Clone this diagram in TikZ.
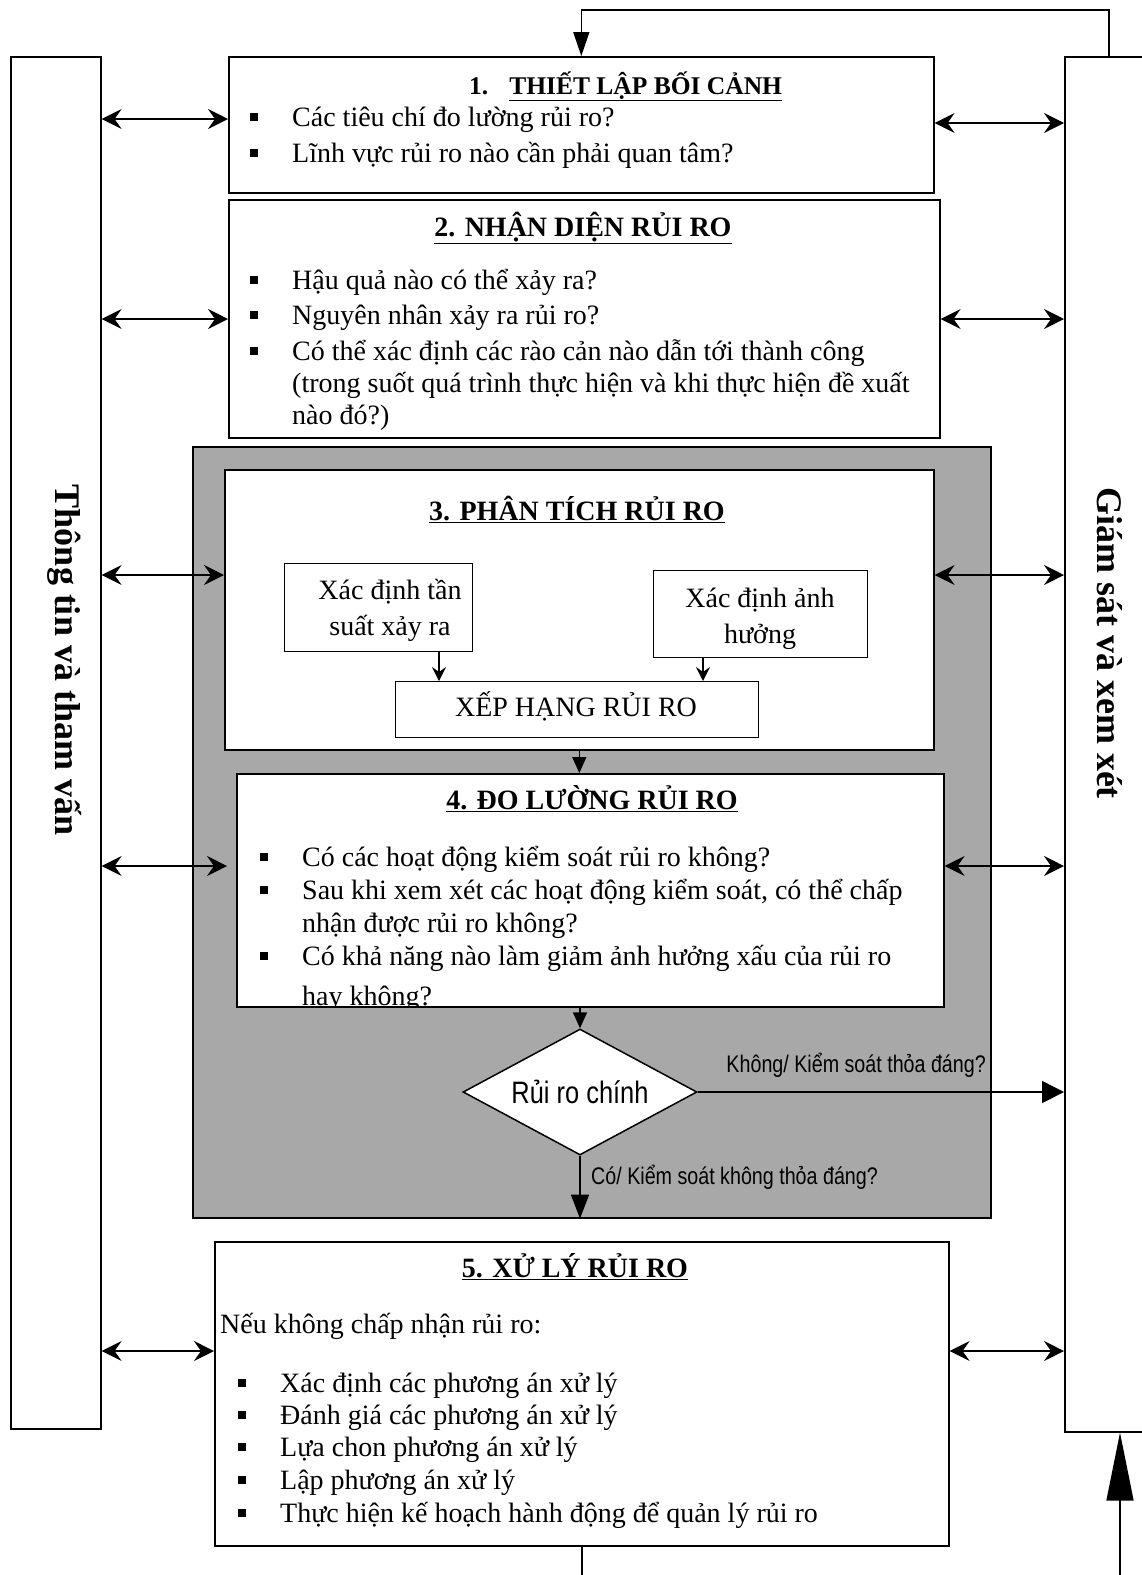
\documentclass[tikz,border=0pt]{standalone}
\usepackage{fontspec}
\setmainfont{Liberation Serif}
\newfontfamily\narrowsans[FakeStretch=0.82]{Liberation Sans}
\usetikzlibrary{arrows.meta,shapes.geometric}
\definecolor{panelgray}{RGB}{168,168,168}
\newcommand\bitem[4]{\node[bul] (#1b) at (#2-38,#3-9) {}; \node[txt] (#1) at (#2,#3) {#4};}
\tikzset{
  box/.style={draw, line width=1.6pt, fill=white, anchor=north west, inner sep=0pt},
  txt/.style={anchor=base west, inner sep=0pt, font=\fontsize{28}{33}\selectfont},
  ctxt/.style={anchor=base, inner sep=0pt, font=\fontsize{28}{33}\selectfont},
  ttl/.style={anchor=base, inner sep=0pt, font=\fontsize{28}{33}\selectfont\bfseries},
  side/.style={inner sep=0pt, rotate=-90, font=\fontsize{36}{40}\selectfont\bfseries},
  bul/.style={fill=black, minimum size=8pt, inner sep=0pt, anchor=center},
  elab/.style={inner sep=0pt, font=\narrowsans\fontsize{24}{28}\selectfont},
  conn/.style={line width=1.5pt},
  dbl/.style={line width=1.5pt, {Stealth[length=20pt,width=20pt,inset=7pt]}-{Stealth[length=20pt,width=20pt,inset=7pt]}},
  vee/.style={line width=1.5pt, -{Stealth[length=14pt,width=14pt,inset=5pt]}},
  tri/.style={line width=1.5pt, -{Triangle[length=16pt,width=14pt]}},
}
\begin{document}
\begin{tikzpicture}[x=1pt,y=-1pt]
\useasboundingbox (0,0) rectangle (1142,1575);
\clip (0,0) rectangle (1142,1575);
\fill[white] (0,0) rectangle (1142,1575);

% side boxes
\node[box, minimum width=90pt, minimum height=1372pt] (leftbox) at (10,56) {};
\node[box, minimum width=100pt, minimum height=1375pt] (rightbox) at (1064,56) {};
\node[side] (lefttxt) at (65,660) {Thông tin và tham vấn};
\node[side] (righttxt) at (1110,643) {Giám sát và xem xét};

% box 1
\node[box, minimum width=705pt, minimum height=136pt] (box1) at (228,56) {};
\node[ttl, anchor=base west, font=\fontsize{25.5}{30}\selectfont\bfseries] (t1) at (469,94) {1.\hspace{21pt}\underline{THIẾT LẬP BỐI CẢNH}};
\bitem{a1}{292}{126}{Các tiêu chí đo lường rủi ro?}
\bitem{a2}{292}{162}{Lĩnh vực rủi ro nào cần phải quan tâm?}

% box 2
\node[box, minimum width=711pt, minimum height=238pt] (box2) at (228,199) {};
\node[ttl] (t2) at (583,236) {\underline{2. NHẬN DIỆN RỦI RO}};
\bitem{c1}{292}{289}{Hậu quả nào có thể xảy ra?}
\bitem{c2}{292}{324}{Nguyên nhân xảy ra rủi ro?}
\bitem{c3}{292}{360}{Có thể xác định các rào cản nào dẫn tới thành công}
\node[txt] (c3b2) at (292,392) {(trong suốt quá trình thực hiện và khi thực hiện đề xuất};
\node[txt] (c3b3) at (292,424) {nào đó?)};

% gray panel
\node[box, fill=panelgray, minimum width=798pt, minimum height=771pt] (gray) at (192,446) {};

% box 3
\node[box, minimum width=709pt, minimum height=280pt] (box3) at (224,469) {};
\node[ttl] (t3) at (577,520) {\underline{3. PHÂN TÍCH RỦI RO}};
\node[box, line width=1.4pt, minimum width=188pt, minimum height=88pt] (sub1) at (284,563) {};
\node[ctxt] (s1a) at (390,599) {Xác định tần};
\node[ctxt] (s1b) at (390,635) {suất xảy ra};
\node[box, line width=1.4pt, minimum width=214pt, minimum height=87pt] (sub2) at (653,570) {};
\node[ctxt] (s2a) at (760,607) {Xác định ảnh};
\node[ctxt] (s2b) at (760,643) {hưởng};
\node[box, line width=1.4pt, minimum width=363pt, minimum height=56pt] (xep) at (395,681) {};
\node[ctxt] (xept) at (576,716) {XẾP HẠNG RỦI RO};

% box 4
\node[box, minimum width=707pt, minimum height=233pt] (box4) at (236,773) {};
\node[ttl] (t4) at (592,809) {\underline{4. ĐO LƯỜNG RỦI RO}};
\begin{scope}
\clip (237,774) rectangle (942,1005);
\bitem{d1}{302}{866}{Có các hoạt động kiểm soát rủi ro không?}
\bitem{d2}{302}{899}{Sau khi xem xét các hoạt động kiểm soát, có thể chấp}
\node[txt] (d2b) at (302,932) {nhận được rủi ro không?};
\bitem{d3}{302}{965}{Có khả năng nào làm giảm ảnh hưởng xấu của rủi ro}
\node[txt] (d3b) at (302,1005) {hay không?};
\end{scope}

% decision
\node[diamond, draw, line width=1.5pt, fill=white, aspect=1.86, minimum width=234pt, minimum height=126pt, inner sep=0pt, font=\narrowsans\fontsize{31}{34}\selectfont] (dia) at (580,1092) {Rủi ro chính};
\node[elab, anchor=base east] (lab1) at (986,1072) {Không/ Kiểm soát thỏa đáng?};
\node[elab, anchor=base west] (lab2) at (591,1184) {Có/ Kiểm soát không thỏa đáng?};

% box 5
\node[box, minimum width=734pt, minimum height=304pt] (box5) at (214,1241) {};
\node[ttl] (t5) at (575,1277) {\underline{5. XỬ LÝ RỦI RO}};
\node[txt] (e0) at (220,1333) {Nếu không chấp nhận rủi ro:};
\bitem{e1}{280}{1392}{Xác định các phương án xử lý}
\bitem{e2}{280}{1424}{Đánh giá các phương án xử lý}
\bitem{e3}{280}{1456}{Lựa chon phương án xử lý}
\bitem{e4}{280}{1489}{Lập phương án xử lý}
\bitem{e5}{280}{1522}{Thực hiện kế hoạch hành động để quản lý rủi ro}

% row coordinates
\coordinate (r1l) at (0,119);
\coordinate (r1r) at (0,123);
\coordinate (r2) at (0,319);
\coordinate (r3) at (0,575);
\coordinate (l4) at (227,866);
\coordinate (r5) at (0,1351);

% double arrows left
\draw[dbl] (leftbox.east |- r1l) -- (box1.west |- r1l);
\draw[dbl] (leftbox.east |- r2) -- (box2.west |- r2);
\draw[dbl] (leftbox.east |- r3) -- (box3.west |- r3);
\draw[dbl] (leftbox.east |- l4) -- (l4);
\draw[dbl] (leftbox.east |- r5) -- (box5.west |- r5);
% double arrows right
\draw[dbl] (box1.east |- r1r) -- (rightbox.west |- r1r);
\draw[dbl] (box2.east |- r2) -- (rightbox.west |- r2);
\draw[dbl] (box3.east |- r3) -- (rightbox.west |- r3);
\draw[dbl] (box4.east |- l4) -- (rightbox.west |- l4);
\draw[dbl] (box5.east |- r5) -- (rightbox.west |- r5);

% inner flow
\coordinate (v1) at (439,0);
\coordinate (v2) at (703,0);
\draw[vee] (sub1.south -| v1) -- (xep.north -| v1);
\draw[vee] (sub2.south -| v2) -- (xep.north -| v2);
\draw[tri] (box3.south) -- (box3.south |- box4.north);
\draw[tri] (dia.north |- box4.south) -- (dia.north);
\draw[line width=1.5pt, -{Triangle[length=22pt,width=22pt]}] (dia.east) -- (rightbox.west |- dia.east);
\draw[line width=1.5pt, -{Triangle[length=24pt,width=18pt]}] (dia.south) -- (dia.south |- gray.south);

% feedback loop
\coordinate (fb) at (1109,10);
\draw[line width=1.5pt, -{Triangle[length=24pt,width=16pt]}] (rightbox.north -| fb) -- (fb) -| (box1.north);
\coordinate (bl) at (0,1590);
\draw[conn] (box5.south) -- (box5.south |- bl);
\coordinate (br) at (1120,1590);
\draw[line width=1.5pt, -{Triangle[length=68pt,width=27pt]}] (br) -- (rightbox.south -| br);
\end{tikzpicture}
\end{document}
